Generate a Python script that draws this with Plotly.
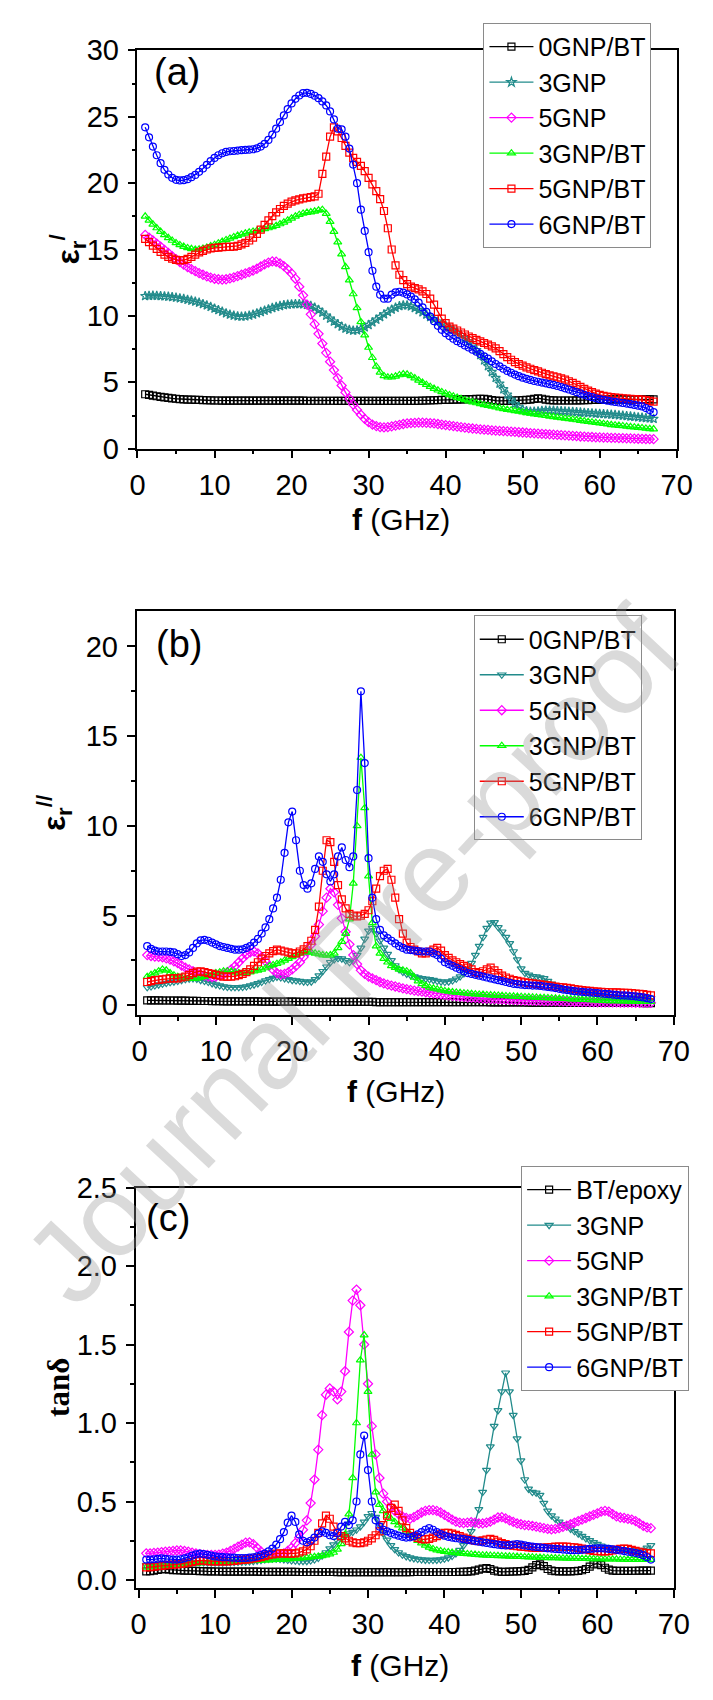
import plotly.graph_objects as go

W, H = 713, 1700


def px(x):
    return x / W


def py(y):
    return 1 - y / H


# ---------------- data ----------------
FREQ = [1.0, 1.5, 2.0, 2.5, 3.0, 3.5, 4.0, 4.5, 5.0, 5.5,
        6.0, 6.5, 7.0, 7.5, 8.0, 8.5, 9.0, 9.5, 10.0, 10.5,
        11.0, 11.5, 12.0, 12.5, 13.0, 13.5, 14.0, 14.5, 15.0, 15.5,
        16.0, 16.5, 17.0, 17.5, 18.0, 18.5, 19.0, 19.5, 20.0, 20.5,
        21.0, 21.5, 22.0, 22.5, 23.0, 23.5, 24.0, 24.5, 25.0, 25.5,
        26.0, 26.5, 27.0, 27.5, 28.0, 28.5, 29.0, 29.5, 30.0, 30.5,
        31.0, 31.5, 32.0, 32.5, 33.0, 33.5, 34.0, 34.5, 35.0, 35.5,
        36.0, 36.5, 37.0, 37.5, 38.0, 38.5, 39.0, 39.5, 40.0, 40.5,
        41.0, 41.5, 42.0, 42.5, 43.0, 43.5, 44.0, 44.5, 45.0, 45.5,
        46.0, 46.5, 47.0, 47.5, 48.0, 48.5, 49.0, 49.5, 50.0, 50.5,
        51.0, 51.5, 52.0, 52.5, 53.0, 53.5, 54.0, 54.5, 55.0, 55.5,
        56.0, 56.5, 57.0, 57.5, 58.0, 58.5, 59.0, 59.5, 60.0, 60.5,
        61.0, 61.5, 62.0, 62.5, 63.0, 63.5, 64.0, 64.5, 65.0, 65.5,
        66.0, 66.5, 67.0]

# (a) real permittivity
EPS1_0GNP_BT = [4.10, 4.05, 4.00, 3.95, 3.90, 3.86, 3.82, 3.79, 3.76, 3.74,
                3.72, 3.70, 3.69, 3.68, 3.67, 3.66, 3.65, 3.64, 3.63, 3.63,
                3.62, 3.62, 3.62, 3.62, 3.62, 3.62, 3.62, 3.62, 3.62, 3.62,
                3.62, 3.62, 3.62, 3.62, 3.62, 3.62, 3.62, 3.62, 3.62, 3.62,
                3.62, 3.62, 3.61, 3.61, 3.61, 3.61, 3.61, 3.61, 3.61, 3.61,
                3.60, 3.60, 3.60, 3.60, 3.60, 3.60, 3.60, 3.60, 3.60, 3.60,
                3.60, 3.60, 3.60, 3.60, 3.60, 3.60, 3.60, 3.60, 3.60, 3.60,
                3.60, 3.61, 3.62, 3.63, 3.64, 3.65, 3.66, 3.67, 3.68, 3.68,
                3.69, 3.70, 3.71, 3.72, 3.73, 3.74, 3.75, 3.76, 3.75, 3.72,
                3.66, 3.62, 3.60, 3.60, 3.61, 3.62, 3.63, 3.65, 3.66, 3.67,
                3.70, 3.75, 3.80, 3.76, 3.70, 3.66, 3.64, 3.63, 3.63, 3.63,
                3.63, 3.63, 3.64, 3.64, 3.65, 3.66, 3.67, 3.68, 3.69, 3.70,
                3.70, 3.71, 3.71, 3.71, 3.72, 3.72, 3.72, 3.72, 3.72, 3.72,
                3.72, 3.72, 3.72]
EPS1_3GNP = [11.50, 11.52, 11.53, 11.52, 11.50, 11.48, 11.45, 11.42, 11.38, 11.33,
             11.28, 11.22, 11.15, 11.08, 11.00, 10.90, 10.80, 10.68, 10.56, 10.44,
             10.32, 10.20, 10.10, 10.02, 9.97, 9.95, 9.97, 10.02, 10.10, 10.20,
             10.30, 10.40, 10.50, 10.60, 10.68, 10.75, 10.81, 10.85, 10.88, 10.90,
             10.90, 10.88, 10.83, 10.75, 10.62, 10.45, 10.25, 10.02, 9.80, 9.58,
             9.38, 9.20, 9.05, 8.95, 8.90, 8.92, 9.00, 9.15, 9.32, 9.52,
             9.72, 9.92, 10.12, 10.30, 10.48, 10.62, 10.74, 10.80, 10.80, 10.72,
             10.60, 10.45, 10.28, 10.10, 9.92, 9.75, 9.58, 9.42, 9.26, 9.10,
             8.93, 8.76, 8.56, 8.34, 8.08, 7.78, 7.43, 7.05, 6.65, 6.22,
             5.78, 5.33, 4.90, 4.48, 4.08, 3.70, 3.38, 3.12, 2.95, 2.84,
             2.80, 2.80, 2.82, 2.86, 2.88, 2.88, 2.87, 2.85, 2.83, 2.81,
             2.79, 2.77, 2.75, 2.73, 2.71, 2.69, 2.67, 2.65, 2.63, 2.61,
             2.59, 2.57, 2.55, 2.52, 2.49, 2.46, 2.43, 2.40, 2.37, 2.34,
             2.31, 2.28, 2.25]
EPS1_5GNP = [16.10, 15.90, 15.68, 15.45, 15.22, 14.98, 14.74, 14.50, 14.28, 14.06,
             13.86, 13.68, 13.52, 13.37, 13.22, 13.10, 12.98, 12.88, 12.80, 12.76,
             12.74, 12.76, 12.82, 12.90, 13.00, 13.10, 13.20, 13.30, 13.42, 13.55,
             13.72, 13.88, 14.02, 14.10, 14.08, 13.95, 13.75, 13.50, 13.20, 12.80,
             12.20, 11.55, 10.85, 10.12, 9.38, 8.65, 7.92, 7.22, 6.55, 5.92,
             5.32, 4.76, 4.24, 3.76, 3.32, 2.92, 2.56, 2.25, 2.00, 1.82,
             1.70, 1.62, 1.60, 1.62, 1.68, 1.74, 1.80, 1.86, 1.90, 1.93,
             1.95, 1.96, 1.96, 1.95, 1.93, 1.90, 1.86, 1.82, 1.78, 1.74,
             1.70, 1.66, 1.62, 1.58, 1.55, 1.52, 1.49, 1.46, 1.43, 1.41,
             1.38, 1.36, 1.34, 1.32, 1.30, 1.28, 1.26, 1.24, 1.22, 1.20,
             1.18, 1.16, 1.14, 1.12, 1.10, 1.08, 1.06, 1.04, 1.02, 1.00,
             0.98, 0.96, 0.94, 0.92, 0.91, 0.89, 0.88, 0.86, 0.85, 0.84,
             0.83, 0.82, 0.81, 0.80, 0.79, 0.78, 0.77, 0.76, 0.75, 0.74,
             0.73, 0.72, 0.72]
EPS1_3GNP_BT = [17.50, 17.20, 16.90, 16.62, 16.35, 16.10, 15.88, 15.68, 15.50, 15.35,
                15.22, 15.12, 15.05, 15.00, 15.02, 15.08, 15.16, 15.26, 15.36, 15.48,
                15.60, 15.72, 15.84, 15.95, 16.05, 16.14, 16.22, 16.30, 16.36, 16.42,
                16.48, 16.55, 16.62, 16.70, 16.80, 16.92, 17.05, 17.20, 17.35, 17.50,
                17.62, 17.72, 17.78, 17.82, 17.88, 17.95, 18.00, 17.70, 17.10, 16.35,
                15.55, 14.65, 13.70, 12.70, 11.65, 10.60, 9.55, 8.55, 7.62, 6.85,
                6.20, 5.75, 5.48, 5.38, 5.38, 5.45, 5.55, 5.62, 5.60, 5.48,
                5.32, 5.15, 4.98, 4.82, 4.67, 4.53, 4.40, 4.28, 4.16, 4.05,
                3.95, 3.85, 3.76, 3.67, 3.59, 3.51, 3.44, 3.37, 3.30, 3.24,
                3.18, 3.12, 3.06, 3.00, 2.95, 2.90, 2.85, 2.80, 2.75, 2.70,
                2.65, 2.60, 2.56, 2.52, 2.48, 2.44, 2.40, 2.36, 2.32, 2.28,
                2.24, 2.20, 2.16, 2.12, 2.08, 2.04, 2.00, 1.96, 1.92, 1.88,
                1.84, 1.80, 1.77, 1.74, 1.71, 1.68, 1.65, 1.62, 1.59, 1.56,
                1.53, 1.50, 1.48]
EPS1_5GNP_BT = [15.80, 15.55, 15.30, 15.05, 14.82, 14.62, 14.45, 14.32, 14.22, 14.18,
                14.20, 14.30, 14.45, 14.62, 14.78, 14.90, 15.00, 15.08, 15.12, 15.15,
                15.18, 15.20, 15.20, 15.22, 15.28, 15.38, 15.50, 15.68, 15.90, 16.18,
                16.50, 16.85, 17.20, 17.52, 17.80, 18.05, 18.28, 18.45, 18.60, 18.70,
                18.78, 18.85, 18.90, 18.95, 19.00, 19.20, 20.70, 22.00, 23.50, 24.20,
                23.90, 23.40, 22.80, 22.30, 21.90, 21.60, 21.30, 20.90, 20.40, 19.90,
                19.40, 18.80, 17.90, 16.60, 15.00, 13.80, 13.10, 12.70, 12.40, 12.20,
                12.10, 12.00, 11.85, 11.65, 11.30, 10.85, 10.30, 9.80, 9.45, 9.20,
                9.05, 8.90, 8.75, 8.60, 8.45, 8.32, 8.20, 8.08, 7.96, 7.84,
                7.70, 7.55, 7.35, 7.12, 6.90, 6.70, 6.52, 6.38, 6.25, 6.12,
                6.02, 5.92, 5.82, 5.72, 5.62, 5.52, 5.45, 5.38, 5.30, 5.20,
                5.08, 4.95, 4.80, 4.65, 4.50, 4.38, 4.26, 4.15, 4.05, 3.98,
                3.92, 3.88, 3.85, 3.82, 3.80, 3.78, 3.76, 3.74, 3.72, 3.70,
                3.66, 3.60, 3.55]
EPS1_6GNP_BT = [24.20, 23.45, 22.75, 22.10, 21.50, 21.00, 20.65, 20.40, 20.25, 20.20,
                20.22, 20.30, 20.45, 20.62, 20.85, 21.10, 21.38, 21.65, 21.90, 22.10,
                22.25, 22.35, 22.40, 22.42, 22.45, 22.48, 22.50, 22.52, 22.55, 22.62,
                22.75, 22.95, 23.25, 23.65, 24.10, 24.60, 25.10, 25.58, 26.00, 26.35,
                26.60, 26.78, 26.80, 26.72, 26.58, 26.40, 26.15, 25.85, 25.40, 24.80,
                24.10, 24.05, 23.50, 22.60, 21.40, 20.00, 18.00, 16.40, 14.80, 13.40,
                12.20, 11.60, 11.30, 11.30, 11.60, 11.78, 11.82, 11.75, 11.62, 11.45,
                11.25, 11.00, 10.65, 10.30, 9.95, 9.60, 9.25, 8.95, 8.70, 8.48,
                8.28, 8.10, 7.94, 7.78, 7.62, 7.46, 7.30, 7.14, 6.96, 6.78,
                6.58, 6.38, 6.20, 6.02, 5.86, 5.72, 5.58, 5.46, 5.35, 5.26,
                5.18, 5.10, 5.04, 4.98, 4.92, 4.86, 4.80, 4.72, 4.64, 4.55,
                4.46, 4.36, 4.26, 4.16, 4.06, 3.96, 3.88, 3.80, 3.73, 3.67,
                3.62, 3.57, 3.52, 3.48, 3.44, 3.40, 3.35, 3.30, 3.24, 3.18,
                3.06, 2.92, 2.75]

# (b) imaginary permittivity
EPS2_0GNP_BT = [0.28, 0.28, 0.28, 0.28, 0.27, 0.27, 0.27, 0.27, 0.26, 0.26,
                0.26, 0.25, 0.25, 0.25, 0.24, 0.24, 0.24, 0.23, 0.23, 0.23,
                0.22, 0.22, 0.22, 0.22, 0.22, 0.22, 0.22, 0.22, 0.22, 0.22,
                0.21, 0.21, 0.21, 0.21, 0.21, 0.21, 0.21, 0.21, 0.21, 0.21,
                0.20, 0.20, 0.20, 0.20, 0.20, 0.20, 0.20, 0.20, 0.20, 0.20,
                0.19, 0.19, 0.19, 0.19, 0.19, 0.19, 0.19, 0.19, 0.19, 0.19,
                0.18, 0.18, 0.18, 0.18, 0.18, 0.18, 0.18, 0.18, 0.18, 0.18,
                0.18, 0.18, 0.18, 0.18, 0.18, 0.18, 0.18, 0.18, 0.18, 0.18,
                0.17, 0.17, 0.17, 0.17, 0.17, 0.17, 0.17, 0.17, 0.17, 0.17,
                0.16, 0.16, 0.16, 0.16, 0.16, 0.16, 0.16, 0.16, 0.16, 0.16,
                0.15, 0.15, 0.15, 0.15, 0.15, 0.15, 0.15, 0.15, 0.15, 0.15,
                0.14, 0.14, 0.14, 0.14, 0.14, 0.14, 0.14, 0.14, 0.14, 0.14,
                0.13, 0.13, 0.13, 0.13, 0.13, 0.13, 0.13, 0.13, 0.13, 0.13,
                0.12, 0.12, 0.12]
EPS2_3GNP = [1.00, 1.05, 1.10, 1.15, 1.20, 1.24, 1.28, 1.32, 1.35, 1.40,
             1.45, 1.48, 1.50, 1.47, 1.40, 1.35, 1.30, 1.22, 1.15, 1.10,
             1.05, 1.02, 1.00, 1.00, 1.00, 1.02, 1.05, 1.10, 1.15, 1.22,
             1.30, 1.38, 1.45, 1.52, 1.58, 1.55, 1.50, 1.45, 1.40, 1.38,
             1.35, 1.32, 1.30, 1.32, 1.45, 1.65, 1.90, 2.15, 2.40, 2.55,
             2.62, 2.60, 2.50, 2.40, 2.48, 2.80, 3.20, 3.70, 4.15, 4.30,
             4.00, 3.60, 3.20, 2.85, 2.50, 2.22, 2.00, 1.85, 1.75, 1.68,
             1.60, 1.55, 1.50, 1.47, 1.45, 1.40, 1.35, 1.32, 1.30, 1.32,
             1.38, 1.48, 1.60, 1.78, 2.00, 2.35, 2.80, 3.30, 3.80, 4.30,
             4.60, 4.62, 4.35, 4.10, 3.80, 3.45, 3.00, 2.55, 2.05, 1.80,
             1.70, 1.62, 1.60, 1.55, 1.50, 1.35, 1.20, 1.08, 1.00, 0.92,
             0.85, 0.80, 0.75, 0.72, 0.70, 0.67, 0.64, 0.61, 0.58, 0.55,
             0.53, 0.51, 0.49, 0.47, 0.46, 0.45, 0.44, 0.43, 0.42, 0.41,
             0.40, 0.40, 0.40]
EPS2_5GNP = [2.80, 2.75, 2.72, 2.70, 2.68, 2.62, 2.55, 2.45, 2.35, 2.22,
             2.10, 2.00, 1.90, 1.80, 1.72, 1.65, 1.60, 1.58, 1.60, 1.65,
             1.72, 1.85, 2.00, 2.18, 2.40, 2.62, 2.82, 2.95, 3.00, 2.90,
             2.70, 2.45, 2.20, 1.98, 1.80, 1.72, 1.75, 1.85, 2.00, 2.20,
             2.40, 2.70, 3.00, 3.40, 3.85, 4.50, 5.25, 6.00, 6.50, 6.30,
             5.60, 4.85, 4.10, 3.40, 2.80, 2.30, 1.95, 1.75, 1.60, 1.50,
             1.40, 1.30, 1.22, 1.15, 1.10, 1.05, 1.00, 0.95, 0.90, 0.86,
             0.82, 0.79, 0.76, 0.73, 0.70, 0.67, 0.64, 0.61, 0.58, 0.55,
             0.53, 0.51, 0.49, 0.47, 0.45, 0.43, 0.41, 0.40, 0.38, 0.37,
             0.36, 0.35, 0.34, 0.33, 0.32, 0.31, 0.30, 0.29, 0.28, 0.27,
             0.26, 0.26, 0.25, 0.25, 0.24, 0.24, 0.23, 0.23, 0.22, 0.22,
             0.21, 0.21, 0.20, 0.20, 0.19, 0.19, 0.18, 0.18, 0.17, 0.17,
             0.17, 0.16, 0.16, 0.16, 0.15, 0.15, 0.15, 0.15, 0.14, 0.14,
             0.14, 0.14, 0.14]
EPS2_3GNP_BT = [1.60, 1.70, 1.80, 1.90, 2.00, 1.95, 1.80, 1.68, 1.60, 1.55,
                1.50, 1.48, 1.48, 1.50, 1.55, 1.60, 1.65, 1.72, 1.80, 1.85,
                1.90, 1.90, 1.88, 1.84, 1.80, 1.80, 1.82, 1.85, 1.90, 1.95,
                2.00, 2.08, 2.18, 2.25, 2.32, 2.40, 2.50, 2.60, 2.70, 2.80,
                2.90, 2.95, 3.00, 2.95, 2.90, 2.85, 2.80, 2.78, 2.80, 2.90,
                3.20, 3.55, 4.00, 4.80, 6.80, 10.00, 13.80, 11.00, 7.20, 4.60,
                3.30, 2.90, 2.60, 2.40, 2.20, 2.10, 2.00, 1.95, 1.90, 1.80,
                1.55, 1.35, 1.20, 1.10, 1.00, 0.95, 0.90, 0.85, 0.80, 0.77,
                0.74, 0.72, 0.70, 0.68, 0.66, 0.64, 0.62, 0.61, 0.60, 0.58,
                0.57, 0.56, 0.55, 0.54, 0.52, 0.51, 0.50, 0.49, 0.48, 0.47,
                0.46, 0.45, 0.44, 0.43, 0.42, 0.41, 0.40, 0.39, 0.38, 0.37,
                0.36, 0.35, 0.34, 0.33, 0.32, 0.31, 0.30, 0.29, 0.28, 0.27,
                0.26, 0.25, 0.25, 0.24, 0.23, 0.23, 0.22, 0.22, 0.21, 0.21,
                0.20, 0.20, 0.20]
EPS2_5GNP_BT = [1.30, 1.35, 1.40, 1.42, 1.45, 1.48, 1.50, 1.50, 1.50, 1.55,
                1.60, 1.70, 1.80, 1.88, 1.90, 1.85, 1.80, 1.75, 1.70, 1.65,
                1.60, 1.60, 1.60, 1.62, 1.68, 1.75, 1.85, 2.00, 2.20, 2.40,
                2.60, 2.75, 2.90, 3.02, 3.10, 3.05, 3.00, 2.95, 2.90, 2.90,
                3.00, 3.12, 3.30, 3.60, 4.20, 5.50, 7.50, 9.20, 9.10, 8.00,
                6.70, 5.90, 5.40, 5.10, 5.00, 4.95, 5.00, 5.10, 5.30, 5.80,
                6.50, 7.20, 7.50, 7.60, 7.00, 6.00, 4.80, 4.00, 3.50, 3.25,
                3.10, 3.00, 2.90, 2.90, 3.00, 3.10, 3.20, 3.05, 2.80, 2.65,
                2.50, 2.40, 2.30, 2.20, 2.10, 2.00, 1.85, 1.80, 1.90, 2.00,
                2.10, 1.95, 1.80, 1.65, 1.55, 1.48, 1.40, 1.36, 1.32, 1.28,
                1.25, 1.22, 1.20, 1.17, 1.14, 1.11, 1.08, 1.05, 1.02, 1.00,
                0.97, 0.94, 0.91, 0.88, 0.85, 0.82, 0.80, 0.78, 0.76, 0.75,
                0.74, 0.73, 0.72, 0.72, 0.71, 0.70, 0.70, 0.68, 0.66, 0.64,
                0.62, 0.58, 0.55]
EPS2_6GNP_BT = [3.30, 3.15, 3.05, 3.00, 3.00, 3.00, 2.98, 2.95, 2.85, 2.75,
                2.80, 2.95, 3.20, 3.45, 3.62, 3.65, 3.60, 3.50, 3.40, 3.30,
                3.25, 3.20, 3.15, 3.10, 3.10, 3.12, 3.20, 3.30, 3.50, 3.70,
                4.00, 4.35, 4.80, 5.40, 6.00, 7.00, 8.50, 10.20, 10.80, 9.20,
                7.50, 6.70, 6.50, 6.80, 7.60, 8.30, 8.00, 7.30, 6.90, 7.30,
                8.30, 8.80, 8.10, 7.70, 8.30, 12.00, 17.50, 13.50, 8.20, 6.00,
                4.80, 4.20, 3.90, 3.75, 3.60, 3.45, 3.30, 3.20, 3.10, 3.08,
                3.05, 3.02, 3.00, 3.00, 3.00, 2.90, 2.80, 2.60, 2.40, 2.30,
                2.20, 2.10, 2.00, 1.90, 1.80, 1.75, 1.70, 1.65, 1.60, 1.55,
                1.50, 1.45, 1.40, 1.35, 1.30, 1.25, 1.20, 1.18, 1.15, 1.13,
                1.12, 1.10, 1.10, 1.08, 1.05, 1.02, 1.00, 0.96, 0.92, 0.88,
                0.85, 0.82, 0.79, 0.77, 0.75, 0.73, 0.72, 0.70, 0.68, 0.66,
                0.64, 0.62, 0.60, 0.58, 0.56, 0.55, 0.54, 0.52, 0.50, 0.47,
                0.44, 0.40, 0.35]

# (c) loss tangent
TAN_BT_EPOXY = [0.055, 0.057, 0.060, 0.065, 0.068, 0.070, 0.066, 0.063, 0.062, 0.061,
                0.060, 0.060, 0.059, 0.058, 0.057, 0.056, 0.055, 0.055, 0.054, 0.054,
                0.053, 0.053, 0.053, 0.053, 0.053, 0.053, 0.053, 0.053, 0.053, 0.053,
                0.052, 0.052, 0.052, 0.052, 0.052, 0.052, 0.052, 0.052, 0.052, 0.052,
                0.051, 0.051, 0.051, 0.051, 0.051, 0.051, 0.051, 0.051, 0.051, 0.051,
                0.050, 0.050, 0.050, 0.050, 0.050, 0.050, 0.050, 0.050, 0.050, 0.050,
                0.050, 0.050, 0.050, 0.050, 0.050, 0.050, 0.050, 0.050, 0.050, 0.050,
                0.051, 0.051, 0.051, 0.051, 0.051, 0.051, 0.051, 0.051, 0.051, 0.051,
                0.051, 0.051, 0.052, 0.052, 0.053, 0.055, 0.060, 0.066, 0.072, 0.076,
                0.070, 0.060, 0.054, 0.052, 0.052, 0.053, 0.054, 0.055, 0.056, 0.058,
                0.065, 0.080, 0.095, 0.100, 0.088, 0.070, 0.060, 0.056, 0.055, 0.055,
                0.055, 0.055, 0.056, 0.058, 0.062, 0.070, 0.085, 0.100, 0.105, 0.095,
                0.078, 0.066, 0.060, 0.058, 0.058, 0.058, 0.058, 0.059, 0.059, 0.060,
                0.060, 0.060, 0.060]
TAN_3GNP = [0.095, 0.098, 0.100, 0.102, 0.104, 0.105, 0.106, 0.107, 0.108, 0.108,
            0.109, 0.110, 0.112, 0.112, 0.112, 0.111, 0.110, 0.110, 0.110, 0.110,
            0.110, 0.111, 0.112, 0.113, 0.114, 0.115, 0.116, 0.118, 0.120, 0.123,
            0.126, 0.130, 0.133, 0.135, 0.135, 0.133, 0.130, 0.127, 0.124, 0.122,
            0.120, 0.120, 0.120, 0.124, 0.130, 0.140, 0.155, 0.175, 0.200, 0.225,
            0.250, 0.268, 0.282, 0.295, 0.305, 0.320, 0.340, 0.370, 0.405, 0.425,
            0.400, 0.350, 0.295, 0.255, 0.220, 0.195, 0.175, 0.160, 0.150, 0.142,
            0.137, 0.133, 0.130, 0.128, 0.127, 0.127, 0.128, 0.130, 0.135, 0.142,
            0.152, 0.168, 0.190, 0.220, 0.260, 0.310, 0.370, 0.450, 0.560, 0.700,
            0.850, 0.980, 1.080, 1.200, 1.320, 1.200, 1.050, 0.900, 0.760, 0.640,
            0.580, 0.560, 0.555, 0.540, 0.490, 0.440, 0.410, 0.390, 0.370, 0.355,
            0.340, 0.325, 0.310, 0.295, 0.280, 0.265, 0.252, 0.240, 0.228, 0.218,
            0.210, 0.205, 0.200, 0.198, 0.195, 0.193, 0.190, 0.188, 0.186, 0.185,
            0.190, 0.205, 0.220]
TAN_5GNP = [0.170, 0.170, 0.172, 0.175, 0.178, 0.180, 0.182, 0.185, 0.188, 0.188,
            0.185, 0.180, 0.175, 0.170, 0.165, 0.162, 0.160, 0.160, 0.160, 0.162,
            0.168, 0.175, 0.185, 0.198, 0.212, 0.225, 0.238, 0.240, 0.228, 0.205,
            0.182, 0.165, 0.158, 0.155, 0.155, 0.160, 0.170, 0.185, 0.205, 0.235,
            0.270, 0.320, 0.380, 0.490, 0.640, 0.830, 1.050, 1.180, 1.220, 1.200,
            1.150, 1.200, 1.330, 1.580, 1.780, 1.850, 1.750, 1.500, 1.250, 0.980,
            0.800, 0.650, 0.550, 0.500, 0.465, 0.440, 0.420, 0.405, 0.395, 0.390,
            0.400, 0.415, 0.430, 0.440, 0.445, 0.445, 0.440, 0.430, 0.415, 0.400,
            0.385, 0.372, 0.365, 0.362, 0.365, 0.368, 0.365, 0.360, 0.360, 0.365,
            0.372, 0.385, 0.398, 0.400, 0.392, 0.380, 0.370, 0.360, 0.355, 0.350,
            0.348, 0.345, 0.340, 0.335, 0.330, 0.325, 0.322, 0.325, 0.330, 0.338,
            0.346, 0.355, 0.365, 0.375, 0.385, 0.395, 0.405, 0.415, 0.425, 0.435,
            0.440, 0.435, 0.420, 0.405, 0.398, 0.395, 0.390, 0.385, 0.375, 0.360,
            0.345, 0.335, 0.330]
TAN_3GNP_BT = [0.080, 0.082, 0.084, 0.086, 0.088, 0.090, 0.092, 0.094, 0.096, 0.098,
               0.100, 0.102, 0.104, 0.106, 0.108, 0.110, 0.111, 0.112, 0.113, 0.114,
               0.115, 0.116, 0.117, 0.118, 0.119, 0.120, 0.121, 0.122, 0.123, 0.124,
               0.125, 0.126, 0.127, 0.128, 0.129, 0.130, 0.131, 0.132, 0.134, 0.136,
               0.138, 0.140, 0.142, 0.145, 0.148, 0.150, 0.153, 0.158, 0.165, 0.175,
               0.195, 0.230, 0.290, 0.420, 0.650, 1.000, 1.400, 1.560, 1.200, 0.800,
               0.560, 0.480, 0.440, 0.410, 0.390, 0.370, 0.350, 0.330, 0.310, 0.290,
               0.270, 0.250, 0.235, 0.220, 0.208, 0.198, 0.190, 0.185, 0.180, 0.178,
               0.175, 0.172, 0.170, 0.168, 0.166, 0.164, 0.162, 0.160, 0.158, 0.157,
               0.156, 0.155, 0.154, 0.153, 0.152, 0.151, 0.150, 0.149, 0.148, 0.147,
               0.146, 0.145, 0.144, 0.143, 0.142, 0.141, 0.140, 0.140, 0.139, 0.139,
               0.138, 0.138, 0.137, 0.137, 0.136, 0.136, 0.135, 0.135, 0.134, 0.134,
               0.133, 0.133, 0.132, 0.132, 0.131, 0.131, 0.130, 0.130, 0.130, 0.130,
               0.130, 0.130, 0.130]
TAN_5GNP_BT = [0.080, 0.082, 0.085, 0.088, 0.090, 0.093, 0.096, 0.098, 0.100, 0.103,
               0.106, 0.110, 0.115, 0.120, 0.125, 0.123, 0.120, 0.118, 0.118, 0.118,
               0.118, 0.119, 0.120, 0.122, 0.125, 0.128, 0.130, 0.133, 0.137, 0.141,
               0.146, 0.152, 0.158, 0.163, 0.168, 0.170, 0.170, 0.168, 0.168, 0.170,
               0.175, 0.183, 0.195, 0.215, 0.250, 0.300, 0.360, 0.410, 0.390, 0.340,
               0.300, 0.280, 0.265, 0.250, 0.240, 0.235, 0.235, 0.240, 0.250, 0.265,
               0.285, 0.310, 0.350, 0.410, 0.460, 0.480, 0.440, 0.380, 0.330, 0.300,
               0.280, 0.268, 0.260, 0.258, 0.262, 0.270, 0.280, 0.290, 0.300, 0.300,
               0.295, 0.288, 0.280, 0.270, 0.262, 0.255, 0.250, 0.248, 0.252, 0.258,
               0.262, 0.255, 0.245, 0.235, 0.228, 0.222, 0.218, 0.215, 0.212, 0.210,
               0.208, 0.206, 0.205, 0.205, 0.206, 0.208, 0.210, 0.212, 0.212, 0.212,
               0.212, 0.210, 0.208, 0.205, 0.200, 0.195, 0.190, 0.186, 0.183, 0.182,
               0.182, 0.184, 0.188, 0.193, 0.198, 0.200, 0.198, 0.192, 0.186, 0.180,
               0.175, 0.172, 0.170]
TAN_6GNP_BT = [0.130, 0.130, 0.132, 0.135, 0.138, 0.135, 0.132, 0.130, 0.130, 0.132,
               0.138, 0.145, 0.155, 0.163, 0.168, 0.165, 0.160, 0.155, 0.150, 0.148,
               0.146, 0.145, 0.143, 0.142, 0.140, 0.140, 0.140, 0.142, 0.145, 0.150,
               0.158, 0.168, 0.182, 0.200, 0.225, 0.260, 0.305, 0.365, 0.410, 0.370,
               0.290, 0.250, 0.240, 0.250, 0.270, 0.295, 0.310, 0.300, 0.285, 0.280,
               0.300, 0.340, 0.370, 0.350, 0.380, 0.500, 0.800, 0.920, 0.700, 0.500,
               0.380, 0.340, 0.320, 0.310, 0.300, 0.290, 0.282, 0.275, 0.270, 0.272,
               0.278, 0.290, 0.305, 0.320, 0.330, 0.320, 0.305, 0.292, 0.282, 0.275,
               0.270, 0.266, 0.263, 0.260, 0.256, 0.252, 0.248, 0.244, 0.240, 0.236,
               0.232, 0.228, 0.225, 0.222, 0.220, 0.222, 0.226, 0.228, 0.225, 0.220,
               0.216, 0.213, 0.210, 0.208, 0.205, 0.202, 0.200, 0.198, 0.196, 0.194,
               0.192, 0.190, 0.190, 0.190, 0.192, 0.195, 0.198, 0.200, 0.202, 0.202,
               0.200, 0.198, 0.195, 0.192, 0.188, 0.184, 0.180, 0.176, 0.172, 0.166,
               0.158, 0.145, 0.130]

NAMES_AB = ["0GNP/BT", "3GNP", "5GNP", "3GNP/BT", "5GNP/BT", "6GNP/BT"]
NAMES_C = ["BT/epoxy", "3GNP", "5GNP", "3GNP/BT", "5GNP/BT", "6GNP/BT"]
COLORS = ["#000000", "#228b8b", "#ff00ff", "#00ff00", "#ff0000", "#0000ff"]
SYMBOLS_A = ["square-open", "star-open", "diamond-open", "triangle-up-open",
             "square-open", "circle-open"]
SYMBOLS_BC = ["square-open", "triangle-down-open", "diamond-open", "triangle-up-open",
              "square-open", "circle-open"]

SERIES_A = [EPS1_0GNP_BT, EPS1_3GNP, EPS1_5GNP, EPS1_3GNP_BT, EPS1_5GNP_BT, EPS1_6GNP_BT]
SERIES_B = [EPS2_0GNP_BT, EPS2_3GNP, EPS2_5GNP, EPS2_3GNP_BT, EPS2_5GNP_BT, EPS2_6GNP_BT]
SERIES_C = [TAN_BT_EPOXY, TAN_3GNP, TAN_5GNP, TAN_3GNP_BT, TAN_5GNP_BT, TAN_6GNP_BT]

# ---------------- figure ----------------
FONT = "Liberation Sans, Arial, sans-serif"
fig = go.Figure()

panels = [
    ("x", "y", "legend", SERIES_A, SYMBOLS_A, NAMES_AB),
    ("x2", "y2", "legend2", SERIES_B, SYMBOLS_BC, NAMES_AB),
    ("x3", "y3", "legend3", SERIES_C, SYMBOLS_BC, NAMES_C),
]
for xa, ya, leg, series, symbols, names in panels:
    for i, vals in enumerate(series):
        fig.add_trace(go.Scatter(
            x=FREQ, y=vals, mode="lines+markers", name=names[i],
            line=dict(color=COLORS[i], width=1.3),
            marker=dict(symbol=symbols[i], size=7, color=COLORS[i],
                        line=dict(color=COLORS[i], width=1.2)),
            xaxis=xa, yaxis=ya, legend=leg,
        ))

axis_common = dict(
    showline=True, linecolor="black", linewidth=1.5, mirror=True,
    ticks="outside", ticklen=8, tickwidth=1.5, tickcolor="black",
    showgrid=False, zeroline=False,
    tickfont=dict(family=FONT, size=29, color="black"),
)


def xaxis(domain, rng, anchor):
    return dict(axis_common, domain=domain, range=rng, anchor=anchor,
                tick0=0, dtick=10, ticklabelstandoff=2,
                minor=dict(ticks="outside", ticklen=4, tickwidth=1.5,
                           tickcolor="black", tick0=0, dtick=5, showgrid=False))


def yaxis(domain, rng, anchor, dtick, mdtick, fmt=None):
    d = dict(axis_common, domain=domain, range=rng, anchor=anchor,
             tick0=0, dtick=dtick, ticklabelstandoff=3,
             minor=dict(ticks="outside", ticklen=4, tickwidth=1.5,
                        tickcolor="black", tick0=0, dtick=mdtick, showgrid=False))
    if fmt:
        d["tickformat"] = fmt
    return d


legend_common = dict(
    xanchor="left", yanchor="top", bgcolor="white", bordercolor="#8a8a8a",
    borderwidth=1, font=dict(family=FONT, size=25, color="black"),
    tracegroupgap=0, itemwidth=44,
)

annotations = []


def label(text, x, y, size, angle=0, family=FONT, color="black"):
    annotations.append(dict(
        text=text, x=px(x), y=py(y), xref="paper", yref="paper",
        showarrow=False, textangle=angle, xanchor="center", yanchor="middle",
        font=dict(family=family, size=size, color=color),
    ))


# watermark (drawn first so that other labels sit on top of it)
label("Journal Pre-proof", 356, 958, 116, angle=-47,
      color="rgba(150,150,150,0.35)")
# panel tags
label("(a)", 175, 57, 38)
label("(b)", 177, 640, 38)
label("(c)", 166, 1225, 38)
# x titles
label("<b>f</b> (GHz)", 407, 513, 30)
label("<b>f</b> (GHz)", 402, 1096, 30)
label("<b>f</b> (GHz)", 406, 1681, 30)
# y titles
label("<b>ε<sub>r</sub><sup>/</sup></b>", 62, 238, 32, angle=-90)
label("<b>ε<sub>r</sub><sup>//</sup></b>", 48, 812, 32, angle=-90)
label("<b>tanδ</b>", 52, 1398, 31, angle=-90,
      family="Liberation Serif, Times New Roman, serif")

fig.update_layout(
    width=W, height=H, margin=dict(l=0, r=0, t=0, b=0),
    paper_bgcolor="white", plot_bgcolor="white", showlegend=True,
    xaxis=xaxis([px(134), px(692)], [0, 70], "y"),
    yaxis=yaxis([py(441), py(35)], [0, 30], "x", 5, 2.5),
    xaxis2=xaxis([px(133), px(689)], [-0.4, 70], "y2"),
    yaxis2=yaxis([py(1018), py(606)], [-0.53, 22], "x2", 5, 2.5),
    xaxis3=xaxis([px(132), px(689)], [-0.4, 70], "y3"),
    yaxis3=yaxis([py(1602), py(1194)], [-0.05, 2.5], "x3", 0.5, 0.25, ".1f"),
    legend=dict(legend_common, x=px(492), y=py(7)),
    legend2=dict(legend_common, x=px(482), y=py(611)),
    legend3=dict(legend_common, x=px(531), y=py(1172)),
    annotations=annotations,
)

fig.write_html("out.html")
